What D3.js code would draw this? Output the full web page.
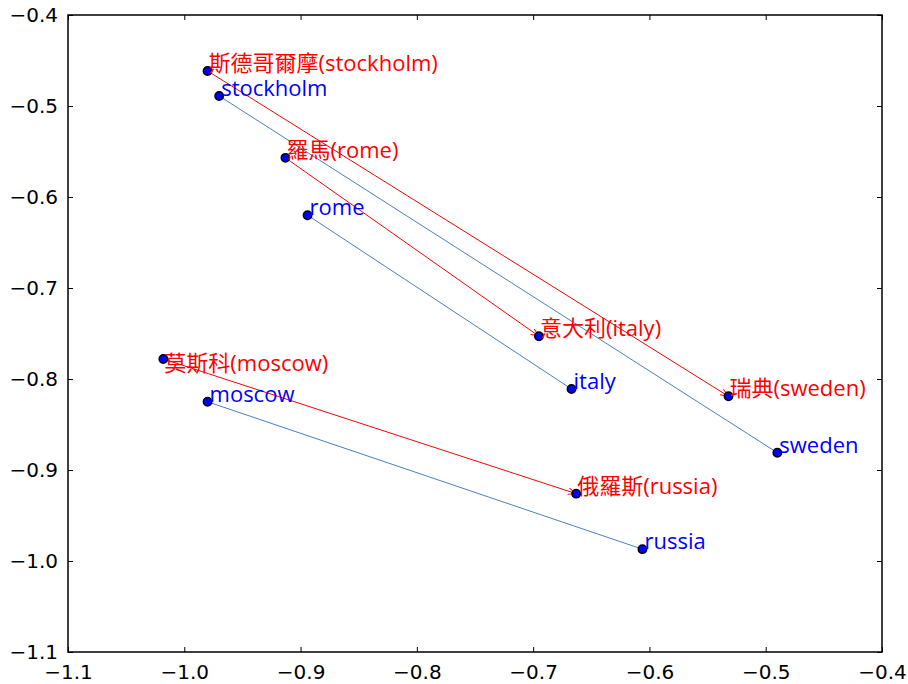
<!DOCTYPE html>
<html><head><meta charset="utf-8">
<script src="https://cdn.jsdelivr.net/npm/d3@7"></script>
<style>body{margin:0;background:#fff;} svg{display:block;}</style>
</head><body>
<svg id="chart" width="908" height="684"></svg>
<script>
// Chinese (red) embeddings
const zhLabels = ["斯德哥爾摩(stockholm)", "羅馬(rome)", "意大利(italy)", "瑞典(sweden)", "莫斯科(moscow)", "俄羅斯(russia)"];
const zhX = [-0.980, -0.913, -0.695, -0.532, -1.018, -0.663];
const zhY = [-0.4615, -0.557, -0.753, -0.819, -0.778, -0.926];
// English (blue) embeddings
const enLabels = ["stockholm", "rome", "italy", "sweden", "moscow", "russia"];
const enX = [-0.970, -0.894, -0.667, -0.490, -0.980, -0.606];
const enY = [-0.489, -0.620, -0.811, -0.881, -0.825, -0.987];
// pairs: [from index, to index]
const pairs = [[0, 3], [1, 2], [4, 5]];
const xTicks = [-1.1, -1.0, -0.9, -0.8, -0.7, -0.6, -0.5, -0.4];
const yTicks = [-0.4, -0.5, -0.6, -0.7, -0.8, -0.9, -1.0, -1.1];

const svg = d3.select("#chart");
const L = 68, R = 882, T = 15, B = 652;
const x = d3.scaleLinear().domain([-1.1, -0.4]).range([L, R]);
const y = d3.scaleLinear().domain([-1.1, -0.4]).range([B, T]);

const fmt = d => (d < 0 ? "\u2212" : "") + Math.abs(d).toFixed(1);
const tickFont = "DejaVu Sans";

// axes with inward ticks on all sides
const axB = svg.append("g").attr("transform", `translate(0,${B})`)
  .call(d3.axisBottom(x).tickValues(xTicks).tickFormat(fmt).tickSizeInner(-5).tickSizeOuter(0).tickPadding(10));
const axT = svg.append("g").attr("transform", `translate(0,${T})`)
  .call(d3.axisTop(x).tickValues(xTicks).tickFormat("").tickSizeInner(-5).tickSizeOuter(0));
const axL = svg.append("g").attr("transform", `translate(${L},0)`)
  .call(d3.axisLeft(y).tickValues(yTicks).tickFormat(fmt).tickSizeInner(-5).tickSizeOuter(0).tickPadding(10));
const axR = svg.append("g").attr("transform", `translate(${R},0)`)
  .call(d3.axisRight(y).tickValues(yTicks).tickFormat("").tickSizeInner(-5).tickSizeOuter(0));
[axB, axT, axL, axR].forEach(a => {
  a.select(".domain").remove();
  a.selectAll("line").attr("stroke", "#000").attr("stroke-width", 1);
  a.selectAll("text").attr("fill", "#000").attr("font-family", tickFont).attr("font-size", 20);
});
axB.selectAll("text").attr("dy", "0.85em");

svg.append("rect").attr("x", L).attr("y", T).attr("width", R - L).attr("height", B - T)
  .attr("fill", "none").attr("stroke", "#000").attr("stroke-width", 1.5);

// arrow marker
const defs = svg.append("defs");
defs.append("marker").attr("id", "arrRed").attr("viewBox", "0 0 10 10").attr("refX", 10).attr("refY", 5)
  .attr("markerWidth", 8).attr("markerHeight", 8).attr("markerUnits", "userSpaceOnUse").attr("orient", "auto")
  .append("path").attr("d", "M0,1 L10,5 L0,9").attr("fill", "none").attr("stroke", "red").attr("stroke-width", 1.2);

// lines
const g = svg.append("g");
g.selectAll("line.en").data(pairs).enter().append("line")
  .attr("x1", p => x(enX[p[0]])).attr("y1", p => y(enY[p[0]]))
  .attr("x2", p => x(enX[p[1]])).attr("y2", p => y(enY[p[1]]))
  .attr("stroke", "#4a7fc0").attr("stroke-width", 1);
g.selectAll("line.zh").data(pairs).enter().append("line")
  .attr("x1", p => x(zhX[p[0]])).attr("y1", p => y(zhY[p[0]]))
  .attr("x2", p => x(zhX[p[1]])).attr("y2", p => y(zhY[p[1]]))
  .attr("stroke", "red").attr("stroke-width", 1).attr("marker-end", "url(#arrRed)");

// points
const idx = d3.range(zhLabels.length);
g.selectAll("circle.zh").data(idx).enter().append("circle")
  .attr("cx", i => x(zhX[i])).attr("cy", i => y(zhY[i])).attr("r", 4.2)
  .attr("fill", "#0000ff").attr("stroke", "#000").attr("stroke-width", 1.5);
g.selectAll("circle.en").data(idx).enter().append("circle")
  .attr("cx", i => x(enX[i])).attr("cy", i => y(enY[i])).attr("r", 4.2)
  .attr("fill", "#0000ff").attr("stroke", "#000").attr("stroke-width", 1.5);

// labels
const labFont = "'Open Sans', 'Noto Sans CJK TC', sans-serif";
const zhDy = {4: 12};
g.selectAll("text.zh").data(idx).enter().append("text")
  .attr("x", i => x(zhX[i]) + 1).attr("y", i => y(zhY[i]) + (zhDy[i] || 0))
  .attr("fill", "red").attr("font-family", labFont).attr("font-size", 22)
  .text(i => zhLabels[i]);
g.selectAll("text.en").data(idx).enter().append("text")
  .attr("x", i => x(enX[i]) + 2).attr("y", i => y(enY[i]))
  .attr("fill", "#0000ff").attr("font-family", labFont).attr("font-size", 22)
  .text(i => enLabels[i]);
</script>
</body></html>
